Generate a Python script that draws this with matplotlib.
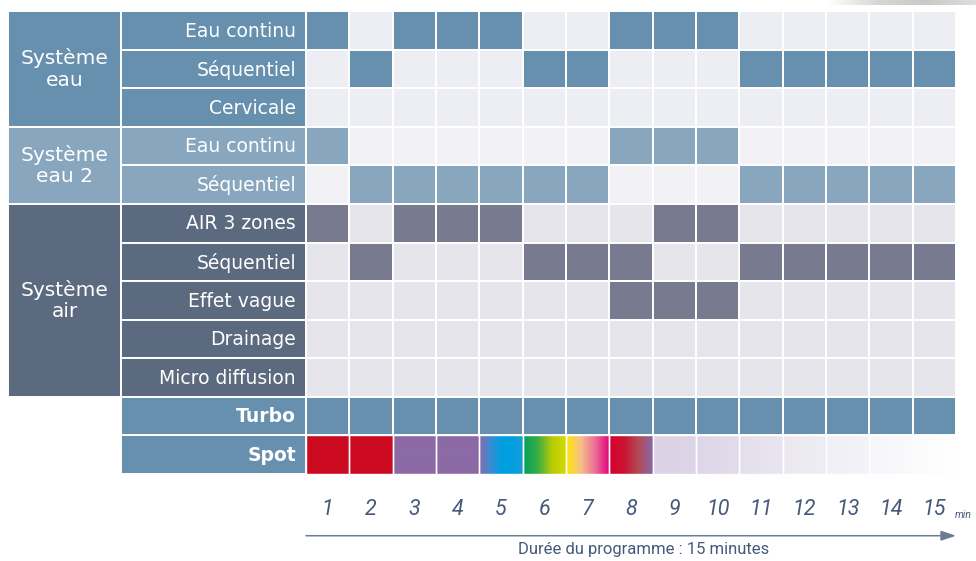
import numpy as np
import matplotlib
matplotlib.use("Agg")
import matplotlib.pyplot as plt
from matplotlib.patches import Rectangle
from matplotlib.colors import LinearSegmentedColormap

# --- data ---
minutes = list(range(1, 16))
groups = ["Système\neau", "Système\neau 2", "Système\nair"]
group_sizes = [3, 2, 5]
row_labels = ["Eau continu", "Séquentiel", "Cervicale",
              "Eau continu", "Séquentiel",
              "AIR 3 zones", "Séquentiel", "Effet vague", "Drainage", "Micro diffusion"]
# minutes where each function is active
active = [
    [1, 3, 4, 5, 8, 9, 10],
    [2, 6, 7, 11, 12, 13, 14, 15],
    [],
    [1, 8, 9, 10],
    [2, 3, 4, 5, 6, 7, 11, 12, 13, 14, 15],
    [1, 3, 4, 5, 9, 10],
    [2, 6, 7, 8, 11, 12, 13, 14, 15],
    [8, 9, 10],
    [],
    [],
]
turbo_label = "Turbo"
turbo_active = minutes
spot_label = "Spot"
# colour stops of the spot light for each minute
spot_colors = [
    ["#cc0a20", "#cc0a20"],
    ["#cc0a20", "#cc0a20"],
    ["#8c6aa6", "#8c6aa6"],
    ["#8c6aa6", "#8c6aa6"],
    ["#8a6aa8", "#3d8bd2", "#009fe0", "#009fe0", "#1a9ed8"],
    ["#00a062", "#3aad45", "#b8cc05", "#d4dc00"],
    ["#ffe600", "#f6c088", "#ec6e98", "#e0007a"],
    ["#d8002e", "#cc1232", "#b24a55", "#8a68a8"],
    ["#dbd2e5", "#ddd5e7"],
    ["#ddd6e8", "#e2dcea"],
    ["#e4dfec", "#e9e5f0"],
    ["#ebe8f1", "#efedf4"],
    ["#f1eff6", "#f4f3f8"],
    ["#f6f5fa", "#fafafc"],
    ["#fbfbfd", "#ffffff"],
]
axis_title = "Durée du programme : 15 minutes"
unit = "min"

# --- style ---
group_colors = ["#6690ae", "#88a7bf", "#5c6a80"]
on_colors = ["#6690ae", "#88a7bf", "#787b90"]
off_colors = ["#eceef3", "#f2f2f6", "#e6e5eb"]
turbo_color = "#6690ae"
text_dark = "#46597a"
label_family = ["DejaVu Sans"]

colw = 650 / 15
rowh = 463 / 12
x0px, y0px = 306, 11

fig = plt.figure(figsize=(9.76, 5.61), dpi=100)
ax = fig.add_axes([0, 0, 1, 1])

group_left = (8 - x0px) / colw
label_left = (121 - x0px) / colw
label_w = -label_left
group_w = label_left - group_left

def cell(x, y, w, color):
    ax.add_patch(Rectangle((x, y), w, 1, facecolor=color, edgecolor="white", lw=1.4))

row = 0
for g, (gname, size) in enumerate(zip(groups, group_sizes)):
    ax.add_patch(Rectangle((group_left, row), group_w, size, facecolor=group_colors[g],
                           edgecolor="white", lw=1.4))
    ax.text(group_left + group_w / 2, row + size / 2, gname, color="white", fontsize=14.5,
            family=label_family, ha="center", va="center", linespacing=1.15)
    for k in range(size):
        r = row + k
        cell(label_left, r, label_w, group_colors[g])
        ax.text(-0.23, r + 0.52, row_labels[r], color="white", fontsize=13.5,
                family=label_family, ha="right", va="center")
        for m in minutes:
            c = on_colors[g] if m in active[r] else off_colors[g]
            cell(m - 1, r, 1, c)
    row += size

# turbo row
cell(label_left, row, label_w, turbo_color)
ax.text(-0.23, row + 0.52, turbo_label, color="white", fontsize=13.5, fontweight="bold",
        family=label_family, ha="right", va="center")
for m in minutes:
    cell(m - 1, row, 1, turbo_color if m in turbo_active else off_colors[0])
row += 1

# spot row
cell(label_left, row, label_w, turbo_color)
ax.text(-0.23, row + 0.52, spot_label, color="white", fontsize=13.5, fontweight="bold",
        family=label_family, ha="right", va="center")
grad = np.linspace(0, 1, 128)[None, :]
for m, stops in zip(minutes, spot_colors):
    cmap = LinearSegmentedColormap.from_list("spot%d" % m, stops)
    ax.imshow(grad, cmap=cmap, extent=(m - 1, m, row + 1, row), aspect="auto",
              interpolation="bilinear", zorder=1)
    edge = "white" if m < 15 else "none"
    ax.add_patch(Rectangle((m - 1, row), 1, 1, facecolor="none", edgecolor=edge,
                           lw=1.0, zorder=2))
row += 1

# minute axis
num_family = ["Roboto", "DejaVu Sans"]
for m in minutes:
    ax.text(m - 0.5, row + 0.93, str(m), color=text_dark, fontsize=15.5, style="italic",
            family=num_family, ha="center", va="center")
ax.text(14.98, row + 1.05, unit, color=text_dark, fontsize=7.5, style="italic",
        family=num_family, ha="left", va="center")
ax.annotate("", xy=(15.0, row + 1.6), xytext=(0.0, row + 1.6),
            arrowprops=dict(arrowstyle="-|>,head_length=0.9,head_width=0.3",
                            color="#6a7b93", lw=1.1, shrinkA=0, shrinkB=0))
ax.text(7.8, row + 1.95, axis_title, color=text_dark, fontsize=12,
        family=num_family, ha="center", va="center")

# soft grey shadow at the top right corner
shade = LinearSegmentedColormap.from_list("shade", ["#ffffff", "#d6d6d6", "#c9c9c9", "#dedede"])
ax.imshow(grad, cmap=shade, extent=((828 - x0px) / colw, (976 - x0px) / colw,
                                    (5 - y0px) / rowh, -y0px / rowh),
          aspect="auto", interpolation="bilinear", zorder=0)

ax.set_xlim(-x0px / colw, (976 - x0px) / colw)
ax.set_ylim((561 - y0px) / rowh, -y0px / rowh)
ax.axis("off")

fig.savefig("out.png", dpi=100)
